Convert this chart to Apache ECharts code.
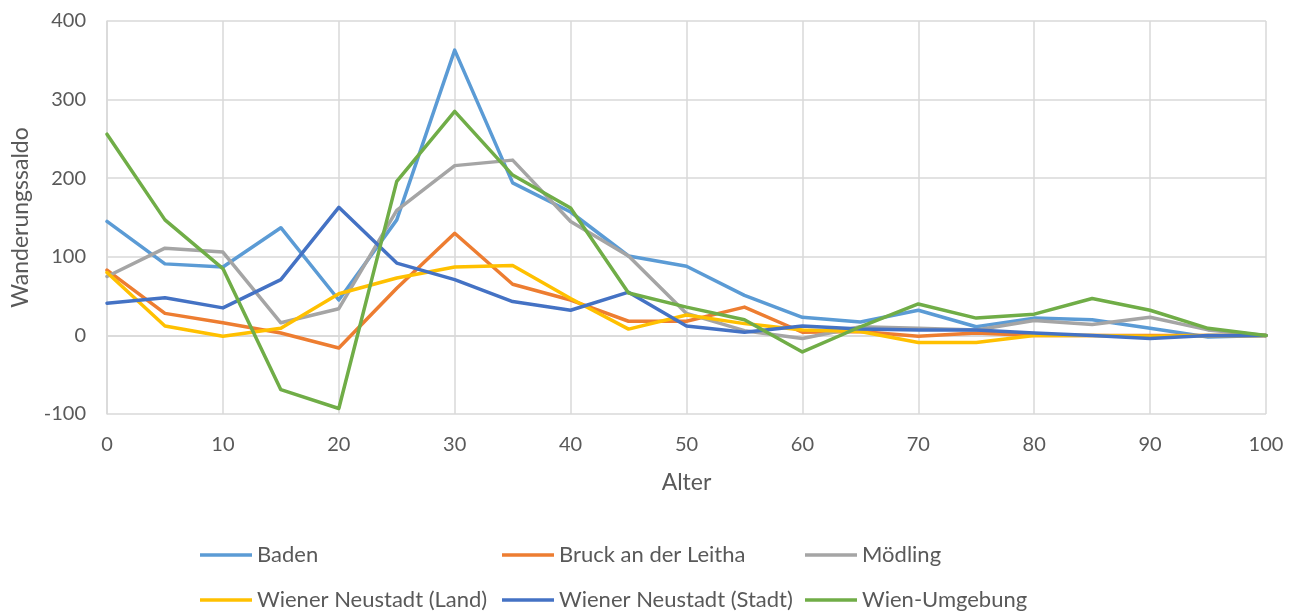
<!DOCTYPE html>
<html>
<head>
<meta charset="utf-8">
<script src="https://cdn.jsdelivr.net/npm/echarts@6/dist/echarts.min.js"></script>
<style>
html,body{margin:0;padding:0;background:#fff}
#chart{width:1293px;height:614px}
</style>
</head>
<body>
<div id="chart"></div>
<script>
// Alter (x)
var alter = [0,5,10,15,20,25,30,35,40,45,50,55,60,65,70,75,80,85,90,95,100]
var yTicks = [-100,0,100,200,300,400]

var baden  = [145,91,87,137,45,147,363,194,157,101,88,51,23,17,32,11,22,20,9,-2,0]
var bruck  = [83,28,16,3,-16,60,130,65,45,18,18,36,4,5,-1,3,0,0,0,0,0]
var moedl  = [75,111,106,16,34,159,216,223,145,101,28,6,-4,11,9,7,19,14,23,7,0]
var wnLand = [80,12,-1,9,53,73,87,89,47,8,26,15,7,5,-9,-9,0,0,-1,0,0]
var wnStadt= [41,48,35,71,163,92,71,43,32,55,12,4,12,8,7,7,3,0,-4,0,0]
var wienU  = [256,147,85,-69,-93,196,285,204,162,54,36,20,-21,11,40,22,27,47,32,9,0]

var namen = ['Baden','Bruck an der Leitha','Mödling','Wiener Neustadt (Land)','Wiener Neustadt (Stadt)','Wien-Umgebung']
var farben = ['#5B9BD5','#ED7D31','#A5A5A5','#FFC000','#4472C4','#70AD47']
var werte = [baden,bruck,moedl,wnLand,wnStadt,wienU]

var font = 'Lato, "Open Sans", sans-serif'
var grau = '#595959'

function paare(arr){
    return alter.map((a,i)=>[a,arr[i]])
}

var myChart = echarts.init(document.getElementById('chart'))

// legende: 3 spalten, 2 zeilen
var spalten = [195,497,800]
var zeilen = [539,584]
var legenden = namen.map((n,i)=>({
    left:spalten[i%3],top:zeilen[Math.floor(i/3)],
    itemWidth:52,itemHeight:3.5,icon:'rect',
    textStyle:{color:grau,fontSize:22,fontFamily:font},
    data:[n],
    selectedMode:false
}))

var achse = {
    axisLine:{show:true,lineStyle:{color:'#D9D9D9',width:1.5}},
    axisTick:{show:false},
    axisLabel:{color:grau,fontSize:20,fontFamily:font,margin:21},
    splitLine:{show:true,lineStyle:{color:'#D9D9D9',width:1.5}},
    nameLocation:'middle',
    nameTextStyle:{color:grau,fontSize:23,fontFamily:font}
}

myChart.setOption({
    animation:false,
    color:farben,
    grid:{left:107,right:27,top:21,bottom:200,containLabel:false},
    legend:legenden,
    xAxis:Object.assign({
        type:'value',min:0,max:100,interval:10,
        name:'Alter',nameGap:57
    },achse),
    yAxis:Object.assign({
        type:'value',min:yTicks[0],max:yTicks[yTicks.length-1],interval:100,
        name:'Wanderungssaldo',nameGap:75
    },achse),
    series:werte.map((w,i)=>({
        name:namen[i],
        type:'line',
        data:paare(w),
        symbol:'none',
        lineStyle:{width:3.5,color:farben[i],cap:'round',join:'round'},
        itemStyle:{color:farben[i]}
    }))
})
</script>
</body>
</html>
